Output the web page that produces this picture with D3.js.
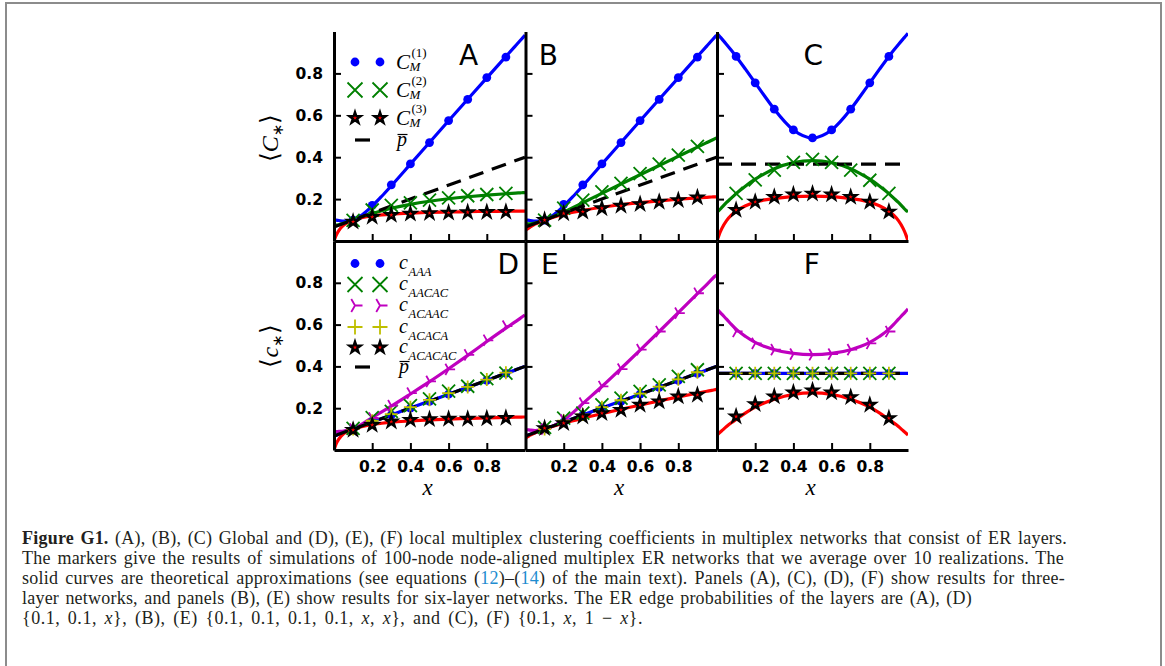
<!DOCTYPE html>
<html><head><meta charset="utf-8">
<script src="https://cdn.jsdelivr.net/npm/d3@7"></script>
<style>body{margin:0;background:#fff}svg{display:block}</style>
</head><body>
<svg id="fig" width="1165" height="666"></svg>
<script>
// ---------------- data ----------------
const xGrid = [0,0.01,0.025,0.05,0.075,0.1,0.15,0.2,0.25,0.3,0.4,0.5,0.6,0.7,0.8,0.9,0.95,0.975,0.99,1];
const xSym  = [0,0.01,0.025,0.05,0.075,0.1,0.15,0.2,0.25,0.3,0.4,0.5,0.6,0.7,0.75,0.8,0.85,0.9,0.925,0.95,0.975,0.99,1];
const xEnds = [0,1];
const xMarks = [0.1,0.2,0.3,0.4,0.5,0.6,0.7,0.8,0.9];
const yTicks = [0.2,0.4,0.6,0.8];
const xTicks = [0.2,0.4,0.6,0.8];
const panelLetters = ["A","B","C","D","E","F"];

// Panel A  {0.1, 0.1, x}
const A_C1 = [0.100,0.0996,0.0977,0.0944,0.0945,0.100,0.1265,0.1667,0.2136,0.2636,0.3667,0.4704,0.5737,0.6765,0.7788,0.8807,0.9316,0.9570,0.9722,0.9824];
const A_C2 = [0.075,0.0755,0.0778,0.084,0.0917,0.100,0.1163,0.1313,0.1444,0.156,0.175,0.1898,0.2016,0.2111,0.219,0.2256,0.2285,0.2299,0.2307,0.2313];
const A_C3 = [0,0.025,0.05,0.075,0.09,0.100,0.1125,0.12,0.125,0.1286,0.1333,0.1364,0.1385,0.14,0.1412,0.1421,0.1425,0.1427,0.1428,0.1429];
const A_pbar = [0.067,0.4];
const A_C1_sim = [0.100,0.170,0.268,0.368,0.470,0.575,0.676,0.780,0.878];
const A_C2_sim = [0.098,0.148,0.170,0.182,0.195,0.206,0.216,0.222,0.227];
const A_C3_sim = [0.092,0.115,0.124,0.130,0.133,0.135,0.137,0.138,0.139];

// Panel B  {0.1, 0.1, 0.1, 0.1, x, x}
const B_C1 = [0.100,0.0996,0.0977,0.0944,0.0945,0.100,0.1265,0.1667,0.2136,0.2636,0.3667,0.4704,0.5737,0.6765,0.7788,0.8807,0.9316,0.9570,0.9722,0.9824];
const B_C2 = [0.0818,0.0816,0.0824,0.0862,0.0923,0.100,0.1184,0.139,0.1606,0.1827,0.2273,0.2718,0.3162,0.3604,0.4043,0.4482,0.470,0.4809,0.4875,0.4918];
const B_C3 = [0.052,0.0577,0.0674,0.0805,0.091,0.100,0.1148,0.1269,0.1372,0.1462,0.1611,0.1732,0.1833,0.1919,0.1993,0.2057,0.2086,0.2099,0.2108,0.2113];
const B_pbar = [0.067,0.4];
const B_C1_sim = [0.100,0.175,0.268,0.368,0.470,0.575,0.676,0.780,0.878];
const B_C2_sim = [0.100,0.157,0.195,0.235,0.275,0.322,0.367,0.410,0.452];
const B_C3_sim = [0.100,0.132,0.140,0.156,0.168,0.176,0.187,0.195,0.208];

// Panel C  {0.1, x, 1-x}
const C_C1 = [0.991,0.981,0.965,0.938,0.910,0.881,0.819,0.755,0.691,0.629,0.530,0.492,0.530,0.629,0.691,0.755,0.819,0.881,0.910,0.938,0.965,0.981,0.991];
const C_C2 = [0.140,0.146,0.160,0.184,0.205,0.226,0.263,0.295,0.322,0.345,0.374,0.384,0.374,0.345,0.322,0.295,0.263,0.226,0.205,0.184,0.160,0.146,0.140];
const C_C3 = [0,0.027,0.059,0.097,0.123,0.142,0.168,0.185,0.196,0.203,0.212,0.214,0.212,0.203,0.196,0.185,0.168,0.142,0.123,0.097,0.059,0.027,0];
const C_pbar = [0.367,0.367];
const C_C1_sim = [0.881,0.755,0.629,0.530,0.492,0.530,0.629,0.755,0.881];
const C_C2_sim = [0.227,0.292,0.338,0.375,0.390,0.375,0.338,0.290,0.227];
const C_C3_sim = [0.148,0.187,0.210,0.222,0.226,0.222,0.210,0.187,0.140];

// Panel D  {0.1, 0.1, x}
const D_AAA = [0.067,0.070,0.075,0.083,0.092,0.100,0.117,0.134,0.151,0.168,0.201,0.234,0.267,0.300,0.333,0.367,0.383,0.392,0.397,0.400];
const D_ACAAC = [0.088,0.088,0.089,0.091,0.095,0.100,0.126,0.155,0.182,0.210,0.268,0.327,0.389,0.453,0.519,0.583,0.614,0.630,0.640,0.645];
const D_ACACAC = [0,0.027,0.052,0.077,0.091,0.100,0.113,0.122,0.128,0.133,0.139,0.144,0.148,0.151,0.154,0.156,0.157,0.157,0.158,0.158];
const D_pbar = [0.067,0.4];
const D_AAA_sim = [0.100,0.135,0.168,0.200,0.233,0.267,0.300,0.333,0.367];
const D_AACAC_sim = [0.104,0.155,0.185,0.212,0.245,0.282,0.305,0.342,0.368];
const D_ACAAC_sim = [0.100,0.153,0.212,0.272,0.328,0.386,0.455,0.525,0.593];
const D_ACACA_sim = [0.100,0.140,0.172,0.205,0.240,0.272,0.302,0.337,0.370];
const D_ACACAC_sim = [0.096,0.120,0.136,0.144,0.147,0.149,0.149,0.151,0.153];

// Panel E  {0.1, 0.1, 0.1, 0.1, x, x}
const E_AAA = [0.067,0.070,0.075,0.083,0.092,0.100,0.117,0.134,0.151,0.168,0.201,0.234,0.267,0.300,0.333,0.367,0.383,0.392,0.397,0.400];
const E_ACAAC = [0.098,0.097,0.095,0.093,0.095,0.100,0.118,0.143,0.180,0.222,0.304,0.390,0.478,0.567,0.657,0.748,0.793,0.816,0.830,0.838];
const E_ACACAC = [0.058,0.063,0.071,0.082,0.092,0.100,0.115,0.128,0.140,0.152,0.174,0.195,0.215,0.235,0.254,0.272,0.281,0.285,0.288,0.290];
const E_pbar = [0.067,0.4];
const E_AAA_sim = [0.100,0.133,0.167,0.200,0.233,0.267,0.300,0.333,0.367];
const E_AACAC_sim = [0.108,0.152,0.176,0.216,0.248,0.280,0.312,0.352,0.384];
const E_ACAAC_sim = [0.100,0.144,0.224,0.304,0.387,0.480,0.567,0.655,0.750];
const E_ACACA_sim = [0.100,0.140,0.170,0.205,0.238,0.270,0.303,0.338,0.372];
const E_ACACAC_sim = [0.104,0.128,0.160,0.176,0.192,0.216,0.232,0.256,0.264];

// Panel F  {0.1, x, 1-x}
const F_AAA = [0.367,0.367];
const F_ACAAC = [0.675,0.665,0.650,0.626,0.601,0.578,0.543,0.515,0.495,0.480,0.462,0.456,0.462,0.480,0.495,0.515,0.543,0.578,0.601,0.626,0.650,0.665,0.675];
const F_ACACAC = [0.072,0.080,0.092,0.112,0.130,0.146,0.178,0.205,0.226,0.243,0.266,0.273,0.266,0.243,0.226,0.205,0.178,0.146,0.130,0.112,0.092,0.080,0.072];
const F_pbar = [0.367,0.367];
const F_AAA_sim = [0.367,0.367,0.367,0.367,0.367,0.367,0.367,0.367,0.367];
const F_AACAC_sim = [0.367,0.367,0.367,0.367,0.367,0.367,0.367,0.367,0.367];
const F_ACAAC_sim = [0.567,0.510,0.480,0.459,0.456,0.459,0.480,0.510,0.567];
const F_ACACA_sim = [0.367,0.367,0.367,0.367,0.367,0.367,0.367,0.367,0.367];
const F_ACACAC_sim = [0.160,0.219,0.256,0.275,0.285,0.275,0.253,0.216,0.152];

// caption lines
const captionLines = [
  [["Figure G1.","b"],[" (A), (B), (C) Global and (D), (E), (F) local multiplex clustering coefficients in multiplex networks that consist of ER layers.",""]],
  [["The markers give the results of simulations of 100-node node-aligned multiplex ER networks that we average over 10 realizations. The",""]],
  [["solid curves are theoretical approximations (see equations (",""],["12","l"],[")\u2013(",""],["14","l"],[") of the main text). Panels (A), (C), (D), (F) show results for three-",""]],
  [["layer networks, and panels (B), (E) show results for six-layer networks. The ER edge probabilities of the layers are (A), (D)",""]],
  [["{0.1, 0.1, ",""],["x","i"],["}, (B), (E) {0.1, 0.1, 0.1, 0.1, ",""],["x","i"],[", ",""],["x","i"],["}, and (C), (F) {0.1, ",""],["x","i"],[", 1 \u2212 ",""],["x","i"],["}.",""]]
];

// ---------------- drawing ----------------
const COL = {blue:"#0000ff", green:"#008000", red:"#ff0000", magenta:"#bf00bf", yellow:"#bfbf00", black:"#000000"};
const SERIF = "'Liberation Serif', serif";
const SANS = "'DejaVu Sans', 'Liberation Sans', sans-serif";
const svg = d3.select("#fig");

svg.append("rect").attr("x",6).attr("y",3).attr("width",1155).attr("height",720)
  .attr("fill","none").attr("stroke","#8c8c8c").attr("stroke-width",2);

const colX = [334, 525.5, 717], PW = 191;
const rowY = [[241, 31.5], [450, 241]];

const panels = [
  {r:0,c:0,lx:0.705, curves:[[xGrid,A_C1,"blue"],[xGrid,A_C2,"green"],[xGrid,A_C3,"red"]], pbar:A_pbar,
   marks:[["dot",A_C1_sim],["x",A_C2_sim],["star",A_C3_sim]]},
  {r:0,c:1,lx:0.12, curves:[[xGrid,B_C1,"blue"],[xGrid,B_C2,"green"],[xGrid,B_C3,"red"]], pbar:B_pbar,
   marks:[["dot",B_C1_sim],["x",B_C2_sim],["star",B_C3_sim]]},
  {r:0,c:2,lx:0.504, curves:[[xSym,C_C1,"blue"],[xSym,C_C2,"green"],[xSym,C_C3,"red"]], pbar:C_pbar,
   marks:[["dot",C_C1_sim],["x",C_C2_sim],["star",C_C3_sim]]},
  {r:1,c:0,lx:0.913, curves:[[xGrid,D_AAA,"blue"],[xGrid,D_ACAAC,"magenta"],[xGrid,D_ACACAC,"red"]], pbar:D_pbar,
   marks:[["dot",D_AAA_sim],["x",D_AACAC_sim],["tri",D_ACAAC_sim],["plus",D_ACACA_sim],["star",D_ACACAC_sim]]},
  {r:1,c:1,lx:0.128, curves:[[xGrid,E_AAA,"blue"],[xGrid,E_ACAAC,"magenta"],[xGrid,E_ACACAC,"red"]], pbar:E_pbar,
   marks:[["dot",E_AAA_sim],["x",E_AACAC_sim],["tri",E_ACAAC_sim],["plus",E_ACACA_sim],["star",E_ACACAC_sim]]},
  {r:1,c:2,lx:0.497, curves:[[xEnds,F_AAA,"blue"],[xSym,F_ACAAC,"magenta"],[xSym,F_ACACAC,"red"]], pbar:F_pbar,
   marks:[["dot",F_AAA_sim],["x",F_AACAC_sim],["tri",F_ACAAC_sim],["plus",F_ACACA_sim],["star",F_ACACAC_sim]]}
];

function marker(g, type, cx, cy, s) {
  s = s || 6.5;
  if (type === "dot") {
    g.append("circle").attr("cx",cx).attr("cy",cy).attr("r",4.4).attr("fill",COL.blue);
  } else if (type === "x") {
    g.append("path").attr("d",`M${cx-s},${cy-s}L${cx+s},${cy+s}M${cx-s},${cy+s}L${cx+s},${cy-s}`)
      .attr("stroke",COL.green).attr("stroke-width",1.8).attr("fill","none");
  } else if (type === "plus") {
    g.append("path").attr("d",`M${cx-s},${cy}L${cx+s},${cy}M${cx},${cy-s}L${cx},${cy+s}`)
      .attr("stroke",COL.yellow).attr("stroke-width",1.8).attr("fill","none");
  } else if (type === "tri") {
    const a = s*0.5, b = s*0.866;
    g.append("path").attr("d",`M${cx},${cy}L${cx+s},${cy}M${cx},${cy}L${cx-a},${cy-b}M${cx},${cy}L${cx-a},${cy+b}`)
      .attr("stroke",COL.magenta).attr("stroke-width",1.8).attr("fill","none");
  } else if (type === "star") {
    g.append("path").attr("transform",`translate(${cx},${cy})`)
      .attr("d", d3.symbol(d3.symbolStar, 40)())
      .attr("fill",COL.red).attr("stroke","#000").attr("stroke-width",2.3).attr("stroke-linejoin","miter");
  }
}

panels.forEach((p, i) => {
  const x0 = colX[p.c];
  const x = d3.scaleLinear().domain([0,1]).range([x0, x0+PW]);
  const y = d3.scaleLinear().domain([0,1]).range(rowY[p.r]);
  const g = svg.append("g");
  const cid = "clip" + i;
  svg.append("clipPath").attr("id",cid).append("rect")
    .attr("x",x0).attr("y",rowY[p.r][1]).attr("width",PW).attr("height",rowY[p.r][0]-rowY[p.r][1]);
  const plot = g.append("g").attr("clip-path",`url(#${cid})`);
  const line = d3.line().x(d=>x(d[0])).y(d=>y(d[1])).curve(d3.curveMonotoneX);
  p.curves.forEach(([xs, ys, col]) => {
    plot.append("path").attr("d", line(xs.map((v,k)=>[v, ys[k]])))
      .attr("fill","none").attr("stroke",COL[col]).attr("stroke-width",3.2);
  });
  plot.append("path").attr("d", d3.line().x(d=>x(d[0])).y(d=>y(d[1]))(xEnds.map((v,k)=>[v,p.pbar[k]])))
    .attr("fill","none").attr("stroke","#000").attr("stroke-width",3.2).attr("stroke-dasharray","15,9");
  const mg = g.append("g");
  p.marks.forEach(([type, vals]) => {
    vals.forEach((v,k) => marker(mg, type, x(xMarks[k]), y(v)));
  });

  // axes (inward ticks, left & bottom spines only)
  const ay = d3.axisLeft(y).tickValues(yTicks).tickSizeInner(-7).tickSizeOuter(0).tickPadding(11)
    .tickFormat(p.c === 0 ? d3.format(".1f") : () => "");
  const gy = svg.append("g").attr("transform",`translate(${x0},0)`).call(ay);
  const ax = d3.axisBottom(x).tickValues(xTicks).tickSizeInner(-7).tickSizeOuter(0).tickPadding(11)
    .tickFormat(p.r === 1 ? d3.format(".1f") : () => "");
  const gx = svg.append("g").attr("transform",`translate(0,${rowY[p.r][0]})`).call(ax);
  [gy, gx].forEach(a => {
    a.select(".domain").attr("stroke","#000").attr("stroke-width",3);
    a.selectAll(".tick line").attr("stroke","#000").attr("stroke-width",2);
    a.selectAll(".tick text").attr("fill","#000").attr("font-family",SANS)
      .attr("font-weight","bold").attr("font-size",15.5);
  });

  // panel letter
  svg.append("text").attr("x", x0 + p.lx*PW).attr("y", p.r === 0 ? 64.5 : 274)
    .attr("text-anchor","middle").attr("font-family",SANS).attr("font-size",28).text(panelLetters[i]);

  // x label
  if (p.r === 1) {
    svg.append("text").attr("x", x0 + PW/2 - 2).attr("y", 495).attr("text-anchor","middle")
      .attr("font-family",SERIF).attr("font-style","italic").attr("font-size",23).text("x");
  }
});

// y labels
function ylab(cx, cy, letter) {
  const t = svg.append("g").attr("transform",`translate(${cx},${cy}) rotate(-90)`)
    .append("text").attr("text-anchor","middle").attr("y",0);
  t.append("tspan").attr("font-family",SERIF).attr("font-size",25).text("\u27E8");
  t.append("tspan").attr("font-family",SERIF).attr("font-style","italic").attr("font-size",24).text(letter);
  t.append("tspan").attr("font-family",SANS).attr("font-size",15).attr("dy",5).text("\u2217");
  t.append("tspan").attr("font-family",SERIF).attr("font-size",25).attr("dy",-5).text("\u27E9");
}
ylab(278, 138, "C");
ylab(278, 346, "c");

// legends
function pbarLabel(g, lx, ly) {
  g.append("text").attr("x",lx).attr("y",ly+6).attr("font-family",SERIF).attr("font-style","italic")
    .attr("font-size",20).text("p");
  g.append("line").attr("x1",lx+0.5).attr("x2",lx+10.5).attr("y1",ly-5.5).attr("y2",ly-5.5)
    .attr("stroke","#000").attr("stroke-width",1.2);
}
function dashEntry(g, y) {
  g.append("line").attr("x1",355).attr("x2",380).attr("y1",y).attr("y2",y)
    .attr("stroke","#000").attr("stroke-width",3.2).attr("stroke-dasharray","15,10");
}
const legA = svg.append("g");
const legARows = [["dot","(1)",62],["x","(2)",90],["star","(3)",118]];
legARows.forEach(([m, sup, yy]) => {
  marker(legA, m, 355, yy, 7.5); marker(legA, m, 380, yy, 7.5);
  const t = legA.append("text").attr("x",396).attr("y",yy+6.5).attr("font-family",SERIF).attr("font-size",21);
  t.append("tspan").attr("font-style","italic").text("C");
  t.append("tspan").attr("x",411.5).attr("y",yy-5).attr("font-size",13).text(sup);
  t.append("tspan").attr("x",409.5).attr("y",yy+9).attr("font-style","italic").attr("font-size",13).text("M");
});
dashEntry(legA, 140); pbarLabel(legA, 397, 140);

const legD = svg.append("g");
const legDRows = [["dot","AAA",263.5],["x","AACAC",284.5],["tri","ACAAC",305.5],["plus","ACACA",327],["star","ACACAC",347.5]];
legDRows.forEach(([m, sub, yy]) => {
  marker(legD, m, 355, yy, 7.5); marker(legD, m, 380, yy, 7.5);
  const t = legD.append("text").attr("x",399).attr("y",yy+5.5).attr("font-family",SERIF)
    .attr("font-style","italic").attr("font-size",20);
  t.append("tspan").text("c");
  t.append("tspan").attr("x",408.5).attr("y",yy+12.5).attr("font-size",12.5).text(sub);
});
dashEntry(legD, 367); pbarLabel(legD, 399, 367);

// caption (justified by splitting the spare width between letters and word gaps)
const capX = 22, capBase = [544, 564, 584, 604, 624], capEnd = [1067, 1064, 1065, 972, 643];
captionLines.forEach((segs, li) => {
  const t = svg.append("text").attr("x",capX).attr("y",capBase[li]).attr("font-family",SERIF)
    .attr("font-size",18).attr("fill","#231f20");
  segs.forEach(([s, st]) => {
    const ts = t.append("tspan").text(s);
    if (st === "b") ts.attr("font-weight","bold");
    if (st === "i") ts.attr("font-style","italic");
    if (st === "l") ts.attr("fill","#1f8dd0");
  });
  const full = segs.map(d=>d[0]).join("");
  const nSp = (full.match(/ /g) || []).length;
  const w = t.node().getComputedTextLength();
  const extra = (capEnd[li] - capX) - w;
  const ls = extra * 0.45 / (full.length - 1);
  t.attr("letter-spacing", ls.toFixed(3) + "px");
  const w2 = t.node().getComputedTextLength();
  const ws = ((capEnd[li] - capX) - w2) / Math.max(nSp,1);
  t.attr("word-spacing", ws.toFixed(3) + "px");
});
</script>
</body></html>
